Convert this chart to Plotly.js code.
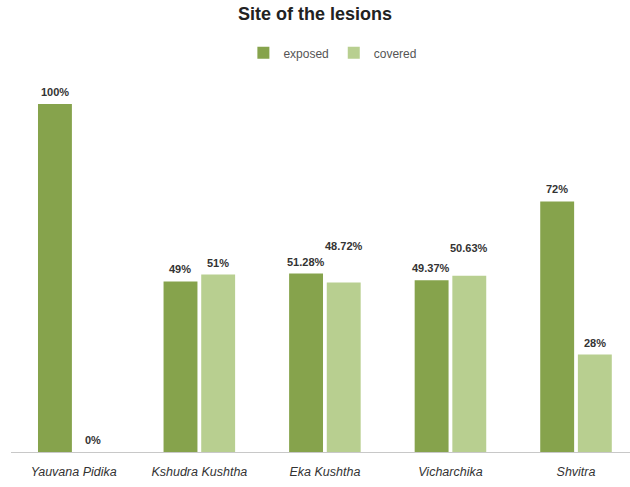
<!DOCTYPE html>
<html>
<head>
<meta charset="utf-8">
<script src="https://cdn.plot.ly/plotly-3.0.1.min.js"></script>
<style>html,body{margin:0;padding:0;background:#fff;}#chart{width:630px;height:487px;}</style>
</head>
<body>
<div id="chart"></div>
<script>
const categories = ["Yauvana Pidika", "Kshudra Kushtha", "Eka Kushtha", "Vicharchika", "Shvitra"];
const exposed = [100, 49, 51.28, 49.37, 72];
const covered = [0, 51, 48.72, 50.63, 28];
const exposedLabels = ["100%", "49%", "51.28%", "49.37%", "72%"];
const coveredLabels = ["0%", "51%", "48.72%", "50.63%", "28%"];
const coveredLift = [0, 0, 24, 16, 0];

const green1 = "#86a34c";
const green2 = "#b8cf90";

const traces = [
  {type: "bar", name: "exposed", x: categories, y: exposed, marker: {color: green1}, hoverinfo: "skip"},
  {type: "bar", name: "covered", x: categories, y: covered, marker: {color: green2}, hoverinfo: "skip"}
];

const annFont = {family: "Liberation Sans, Arial, sans-serif", size: 11, color: "#333"};
const annotations = [];
categories.forEach((c, i) => {
  annotations.push({x: c, y: exposed[i], xref: "x", yref: "y", xshift: -19, yshift: 4,
    yanchor: "bottom", text: "<b>" + exposedLabels[i] + "</b>", showarrow: false, font: annFont});
  annotations.push({x: c, y: covered[i], xref: "x", yref: "y", xshift: 19, yshift: 4 + coveredLift[i],
    yanchor: "bottom", text: "<b>" + coveredLabels[i] + "</b>", showarrow: false, font: annFont});
});

const layout = {
  width: 630, height: 487,
  margin: {l: 11, r: 0, t: 80, b: 35},
  paper_bgcolor: "#fff", plot_bgcolor: "#fff",
  title: {text: "<b>Site of the lesions</b>", x: 0.5, xanchor: "center", y: 0.985, yanchor: "top",
    font: {family: "Liberation Sans, Arial, sans-serif", size: 18, color: "#222"}},
  showlegend: true,
  legend: {orientation: "h", x: 0.52, xanchor: "center", y: 1.073, yanchor: "middle",
    font: {family: "Liberation Sans, Arial, sans-serif", size: 12, color: "#555"},
    itemwidth: 30, traceorder: "normal"},
  barmode: "group", bargap: 0.4, bargroupgap: 0.1,
  xaxis: {range: [-0.5, 4.43], showgrid: false, zeroline: false, showline: true, linecolor: "#c8c8c8",
    linewidth: 1, ticks: "", ticklabelstandoff: 8,
    tickfont: {family: "Liberation Sans, Arial, sans-serif", size: 12.5, color: "#333", style: "italic"},
    fixedrange: true},
  yaxis: {range: [0, 106.9], visible: false, showgrid: false, zeroline: false, fixedrange: true},
  annotations: annotations
};

Plotly.newPlot("chart", traces, layout, {displayModeBar: false, staticPlot: true});
</script>
</body>
</html>
